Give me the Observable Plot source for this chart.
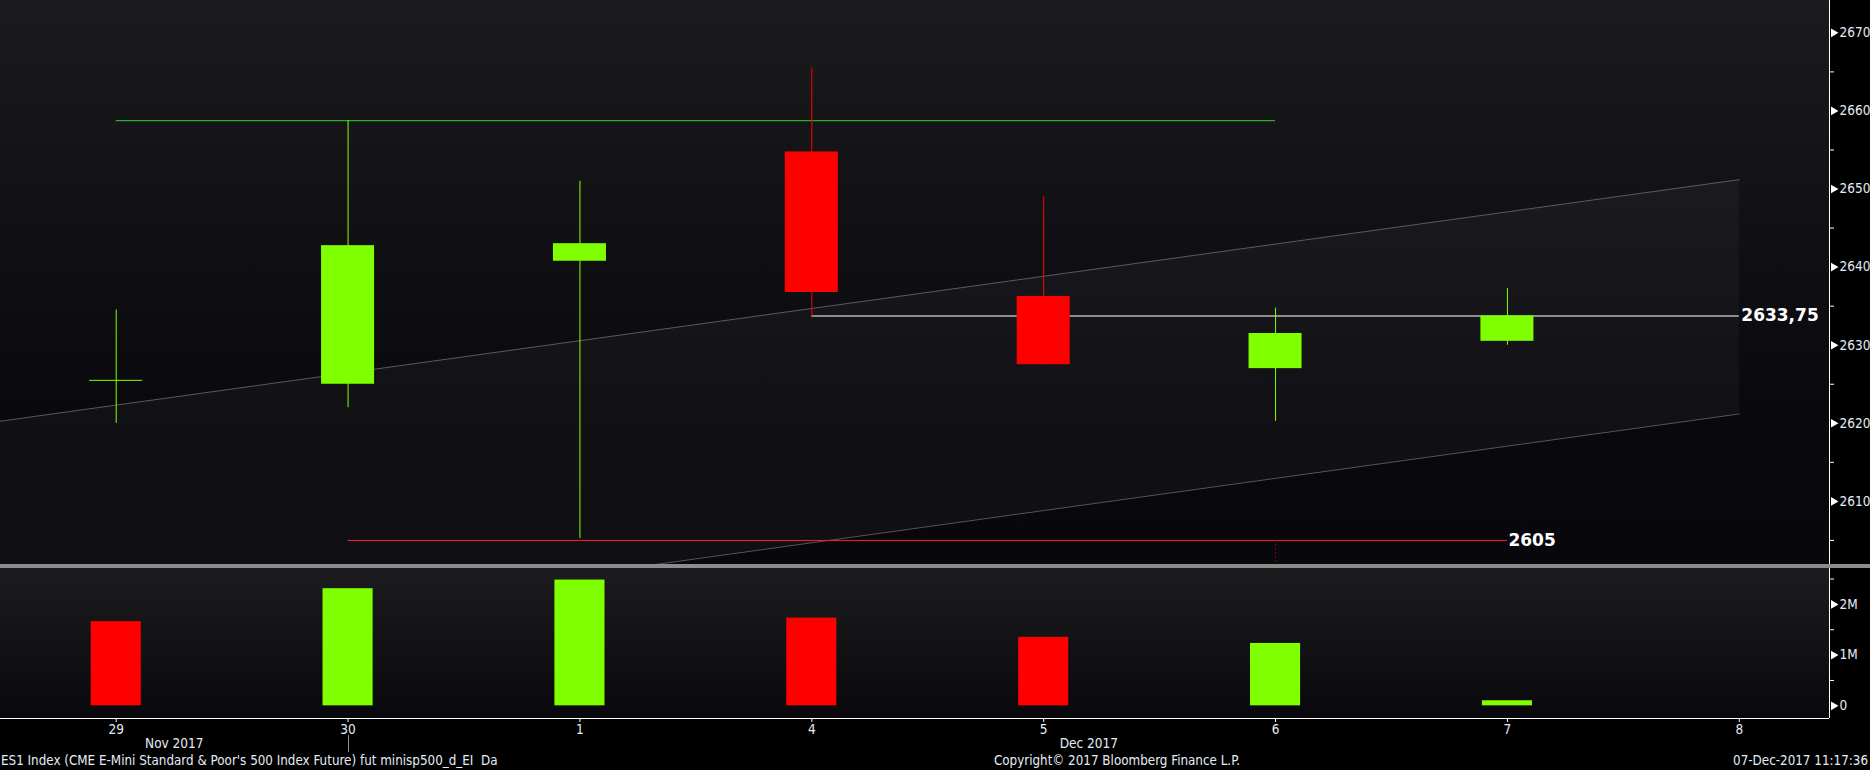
<!DOCTYPE html>
<html><head><meta charset="utf-8">
<script src="https://cdn.jsdelivr.net/npm/d3@7"></script>
<script src="https://cdn.jsdelivr.net/npm/@observablehq/plot@0.6"></script>
<style>
html,body{margin:0;padding:0;background:#000;}
#wrap{position:relative;width:1870px;height:770px;background:#000;overflow:hidden;font-family:"Liberation Sans Narrow","DejaVu Sans Condensed","Arial Narrow",sans-serif;}
#bgMain{position:absolute;left:0;top:0;width:1829px;height:564px;background:linear-gradient(#1b1b1d 0%,#111115 40%,#09090d 75%,#08080c 100%);}
#sep{position:absolute;left:0;top:564px;width:1870px;height:4px;background:#8c8c8c;}
#bgVol{position:absolute;left:0;top:568px;width:1829px;height:150px;background:linear-gradient(#1c1c1e,#09090d);}
#main{position:absolute;left:0;top:0;}
#vol{position:absolute;left:0;top:568px;}
.foot{position:absolute;top:752px;font-size:13.3px;color:#e4ecf6;white-space:pre;line-height:18px;}
#monthSep{position:absolute;top:735px;width:1px;height:17px;background:#8a8a8a;}
</style></head>
<body>
<div id="wrap">
  <div id="bgMain"></div>
  <div id="bgVol"></div>
  <div id="sep"></div>
  <div id="main"></div>
  <div id="vol"></div>
  <div id="monthSep"></div>
  <div class="foot" id="f1" style="left:1px;">ES1 Index (CME E-Mini Standard &amp; Poor's 500 Index Future) fut minisp500_d_EI  Da</div>
  <div class="foot" id="f2" style="left:1117px;transform:translateX(-50%);">Copyright© 2017 Bloomberg Finance L.P.</div>
  <div class="foot" id="f3" style="right:2px;">07-Dec-2017 11:17:36</div>
</div>
<script>
// ---- data ----
const dayLabels = ["29", "30", "1", "4", "5", "6", "7", "8"];
const monthLabels = ["Nov 2017", "Dec 2017"];
const opens  = [2625.5, 2625.0, 2640.75, 2654.75, 2636.25, 2627.0, 2630.5];
const highs  = [2634.5, 2658.75, 2651.0, 2665.5, 2649.0, 2634.75, 2637.25];
const lows   = [2620.0, 2622.0, 2605.25, 2633.75, 2627.5, 2620.25, 2630.0];
const closes = [2625.5, 2642.75, 2643.0, 2636.75, 2627.5, 2631.5, 2633.75];
const volumesM = [1.66, 2.31, 2.48, 1.73, 1.35, 1.23, 0.10];
const volumeUp = [false, true, true, false, false, true, true];

const resistanceLevel = 2658.75, resistanceFrom = 0, resistanceTo = 5;
const supportLevel = 2605, supportFrom = 1, supportTo = 6, supportLabel = "2605";
const closeLevel = 2633.75, closeFrom = 3, closeTo = 7, closeLabel = "2633,75";
const channelX = [-0.5, 7];
const channelUpper = [2620.27, 2651.2];
const channelLower = [2590.27, 2621.2];

const priceTicks = [2610, 2620, 2630, 2640, 2650, 2660, 2670];
const priceMinor = [2605, 2615, 2625, 2635, 2645, 2655, 2665];
const volTicks = [0, 1, 2];
const volTickLabels = ["0", "1M", "2M"];
const volMinor = [0.5, 1.5, 2.5];

// ---- style constants ----
const UP = "#80ff00", DOWN = "#ff0000";
const TXT = "#e4ecf6";
const xDomain = [-0.499, 7.389];
const bodyHalf = 0.1143, barHalf = 0.108;
const W = 1870, MR = 41;
const font = '"Liberation Sans Narrow","DejaVu Sans Condensed","Arial Narrow",sans-serif';
const FS = 13.5;

const candles = opens.map((o, i) => ({i, open: o, high: highs[i], low: lows[i], close: closes[i]}));
const colorOf = d => d.close >= d.open ? UP : DOWN;
const bodies = candles.filter(d => d.open !== d.close);
const dojis = candles.filter(d => d.open === d.close);
const channel = channelX.map((x, k) => ({x, hi: channelUpper[k], lo: channelLower[k]}));
const vols = volumesM.map((v, i) => ({i, v, up: volumeUp[i]}));

const main = Plot.plot({
  width: W, height: 564,
  marginLeft: 0, marginRight: MR, marginTop: 0, marginBottom: 0,
  style: {background: "transparent", color: TXT, fontFamily: font, fontSize: FS + "px", overflow: "visible"},
  x: {domain: xDomain, axis: null},
  y: {domain: [2601.92, 2674.14], axis: null},
  marks: [
    Plot.areaY(channel, {x: "x", y1: "lo", y2: "hi", fill: "#ffffff", fillOpacity: 0.035, clip: true}),
    Plot.line(channel, {x: "x", y: "hi", stroke: "#707074", strokeWidth: 1, strokeOpacity: 0.75, clip: true}),
    Plot.line(channel, {x: "x", y: "lo", stroke: "#707074", strokeWidth: 1, strokeOpacity: 0.75, clip: true}),
    Plot.ruleY([resistanceLevel], {y: d => d, x1: resistanceFrom, x2: resistanceTo, stroke: "#30d030", strokeWidth: 1}),
    Plot.ruleY([supportLevel], {y: d => d, x1: supportFrom, x2: supportTo, stroke: "#ff1a30", strokeWidth: 1}),
    Plot.ruleX([5], {x: d => d, y1: supportLevel, y2: 2601.92, stroke: "#8a0012", strokeDasharray: "2,2", strokeWidth: 1}),
    Plot.ruleY([closeLevel], {y: d => d, x1: closeFrom, x2: closeTo, stroke: "#b4b4b4", strokeWidth: 1.5}),
    Plot.ruleX(candles, {x: "i", y1: "low", y2: "high", stroke: colorOf, strokeWidth: 1}),
    Plot.rect(bodies, {x1: d => d.i - bodyHalf, x2: d => d.i + bodyHalf, y1: "open", y2: "close", fill: colorOf}),
    Plot.ruleY(dojis, {y: "open", x1: d => d.i - bodyHalf, x2: d => d.i + bodyHalf, stroke: colorOf, strokeWidth: 1}),
    Plot.text([closeLabel], {x: closeTo, y: closeLevel, text: d => d, textAnchor: "start", dx: 2, fill: "#ffffff", fontWeight: "bold", fontSize: 17, fontFamily: "DejaVu Sans"}),
    Plot.text([supportLabel], {x: supportTo, y: supportLevel, text: d => d, textAnchor: "start", dx: 1, fill: "#ffffff", fontWeight: "bold", fontSize: 17, fontFamily: "DejaVu Sans"}),
    Plot.ruleX([xDomain[1]], {x: d => d, stroke: "#ffffff", strokeWidth: 1}),
    Plot.axisY({anchor: "right", ticks: priceMinor, tickSize: 4, stroke: "#ffffff", tickFormat: () => "", label: null}),
    Plot.dot(priceTicks, {x: () => xDomain[1], y: d => d, symbol: "triangle", rotate: 90, r: 3.2, fill: "#ffffff", stroke: "none", dx: 4}),
    Plot.axisY({anchor: "right", ticks: priceTicks, tickSize: 0, tickPadding: 10, fill: TXT, tickFormat: d => String(d), label: null})
  ]
});
document.getElementById("main").append(main);

const vol = Plot.plot({
  width: W, height: 202,
  marginLeft: 0, marginRight: MR, marginTop: 0, marginBottom: 52,
  style: {background: "transparent", color: TXT, fontFamily: font, fontSize: FS + "px", overflow: "visible"},
  x: {domain: xDomain, axis: null},
  y: {domain: [-0.25, 2.708], axis: null},
  marks: [
    Plot.rect(vols, {x1: d => d.i - barHalf, x2: d => d.i + barHalf, y1: 0, y2: "v", fill: d => d.up ? UP : DOWN}),
    Plot.ruleX([xDomain[1]], {x: d => d, stroke: "#ffffff", strokeWidth: 1}),
    Plot.ruleY([-0.25], {y: d => d, stroke: "#ffffff", strokeWidth: 1}),
    Plot.axisY({anchor: "right", ticks: volMinor, tickSize: 4, stroke: "#ffffff", tickFormat: () => "", label: null}),
    Plot.dot(volTicks, {x: () => xDomain[1], y: d => d, symbol: "triangle", rotate: 90, r: 3.2, fill: "#ffffff", stroke: "none", dx: 4}),
    Plot.axisY({anchor: "right", ticks: volTicks, tickSize: 0, tickPadding: 10, fill: TXT, label: null, tickFormat: d => volTickLabels[volTicks.indexOf(d)]}),
    Plot.axisX({anchor: "bottom", ticks: d3.range(dayLabels.length), tickSize: 4, tickPadding: 2, stroke: "#ffffff", fill: TXT, label: null, tickFormat: i => dayLabels[i]}),
    Plot.axisX({anchor: "bottom", ticks: [(xDomain[0] + 1) / 2, (1 + xDomain[1]) / 2], tickSize: 0, tickPadding: 20, fill: TXT, label: null,
      tickFormat: (d, k) => monthLabels[k]})
  ]
});
document.getElementById("vol").append(vol);

const xs = vol.scale("x");
document.getElementById("monthSep").style.left = Math.round(xs.apply(1)) + "px";
</script>
</body></html>
